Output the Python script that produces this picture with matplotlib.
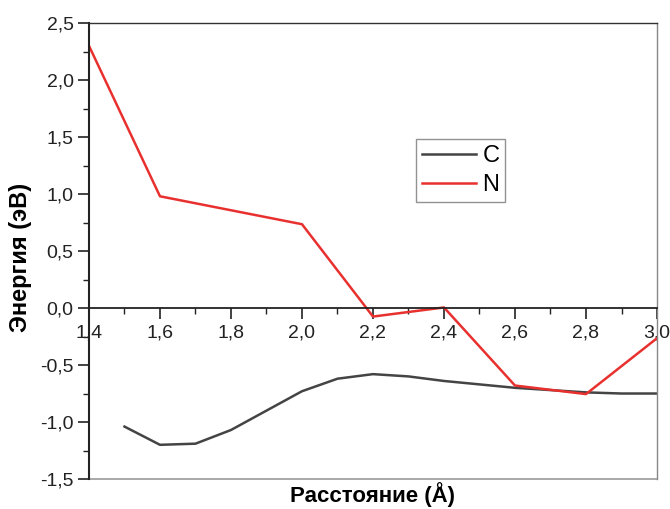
import matplotlib.pyplot as plt
import numpy as np
from matplotlib.ticker import MultipleLocator, FuncFormatter

plt.rcParams['font.family'] = ['Liberation Sans', 'DejaVu Sans']

# data
x_c = [1.5, 1.6, 1.7, 1.8, 1.9, 2.0, 2.1, 2.2, 2.3, 2.4, 2.5, 2.6, 2.7, 2.8, 2.9, 3.0]
e_c = [-1.04, -1.20, -1.19, -1.07, -0.90, -0.73, -0.62, -0.58, -0.60, -0.64,
       -0.67, -0.70, -0.72, -0.74, -0.75, -0.75]

x_n = [1.4, 1.6, 2.0, 2.2, 2.4, 2.6, 2.8, 3.0]
e_n = [2.30, 0.98, 0.735, -0.075, 0.005, -0.68, -0.755, -0.265]

fig = plt.figure(figsize=(6.7, 5.09), dpi=100)
ax = fig.add_axes([0.1328, 0.0589, 0.8478, 0.8959])

ax.plot(x_c, e_c, color='#444444', lw=1.8, label='C')
ax.plot(x_n, e_n, color='#e8312f', lw=1.8, label='N')

ax.set_xlim(1.4, 3.0)
ax.set_ylim(-1.5, 2.5)

# x axis crosses at zero, frame line kept at the bottom
ax.spines['bottom'].set_position(('data', 0))
ax.spines['bottom'].set_linewidth(1.3)
ax.spines['bottom'].set_color('#222222')
ax.spines['left'].set_linewidth(1.5)
ax.spines['left'].set_color('#222222')
ax.spines['top'].set_linewidth(1.0)
ax.spines['top'].set_color('#333333')
ax.spines['right'].set_linewidth(1.0)
ax.spines['right'].set_color('#888888')
ax.axhline(ax.get_ylim()[0], color='#999999', lw=1.2, clip_on=False)

ax.xaxis.set_major_locator(MultipleLocator(0.2))
ax.xaxis.set_minor_locator(MultipleLocator(0.1))
ax.yaxis.set_major_locator(MultipleLocator(0.5))
ax.yaxis.set_minor_locator(MultipleLocator(0.25))

comma = FuncFormatter(lambda v, p: ('%.1f' % v).replace('.', ','))
ax.xaxis.set_major_formatter(comma)
ax.yaxis.set_major_formatter(comma)

ax.tick_params(which='major', direction='out', length=8, width=1.2,
               labelsize=14, colors='#222222', pad=3)
ax.tick_params(which='minor', direction='out', length=4, width=1.0, colors='#222222')
ax.tick_params(axis='x', pad=4)

ax.set_xlabel('Расстояние (Å)', fontsize=16, fontweight='bold')
ax.set_ylabel('Энергия (эВ)', fontsize=17, fontweight='bold')
ax.xaxis.set_label_coords(0.5, -0.006)
ax.xaxis.label.set_va('top')
ax.yaxis.set_label_coords(-0.1, 0.487)

leg = ax.legend(loc='upper left', bbox_to_anchor=(0.576, 0.745), fontsize=17,
                frameon=True, fancybox=False, handlelength=2.3, handletextpad=0.25,
                borderpad=0.25, labelspacing=0.3, borderaxespad=0)
leg.get_frame().set_edgecolor('#777777')
leg.get_frame().set_linewidth(1.0)

fig.savefig('out.png', dpi=100)
